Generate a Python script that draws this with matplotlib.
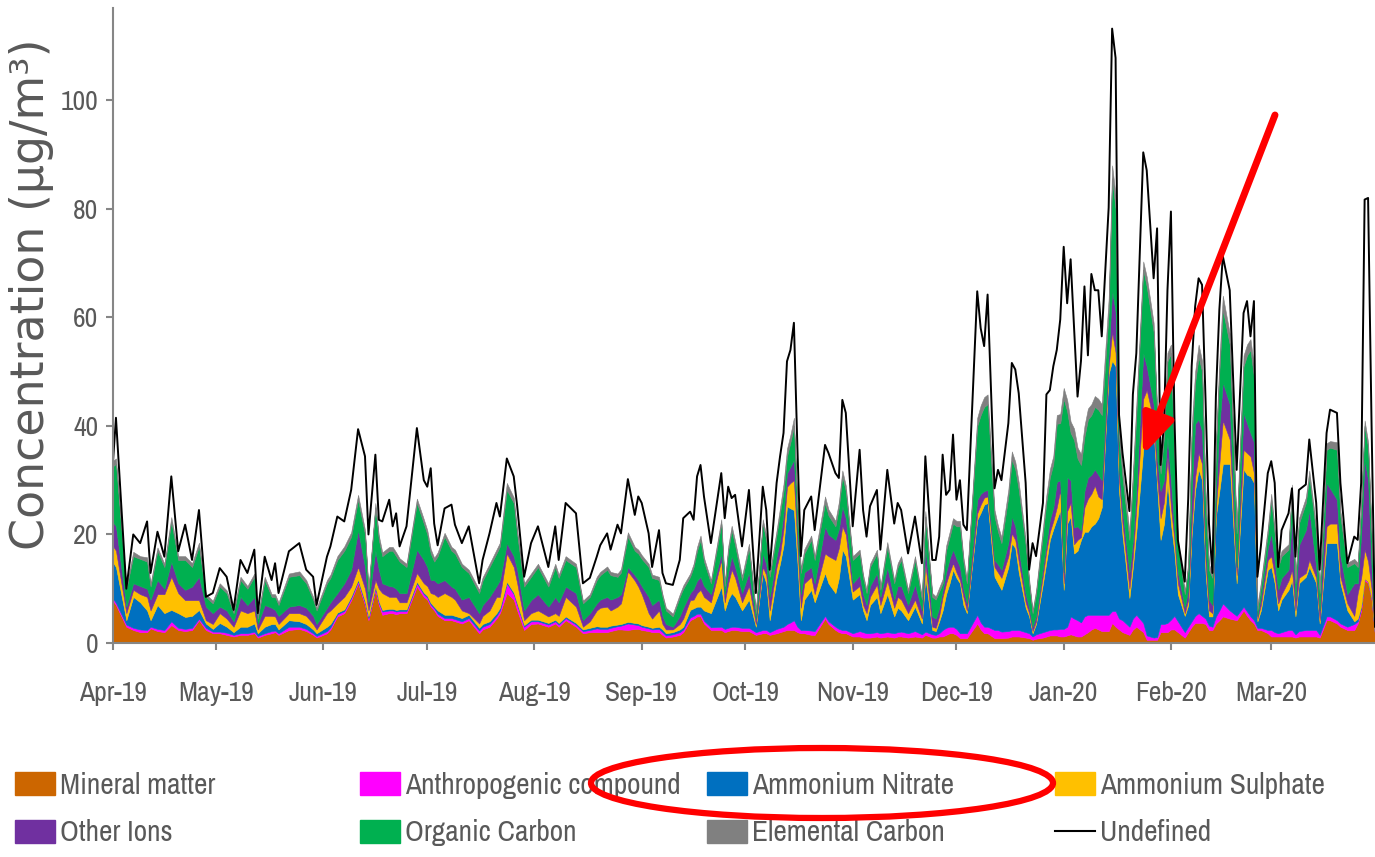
import numpy as np
import matplotlib
matplotlib.use("Agg")
from matplotlib import pyplot as plt
import matplotlib.dates as mdates
from matplotlib import font_manager
from matplotlib.patches import Ellipse, Patch
from matplotlib.lines import Line2D

# days since 2019-04-01 at which the values were read
day = [0, 1, 4, 6, 8, 10, 11, 13, 15, 17, 19, 21, 23, 25, 27, 29,
       31, 33, 35, 37, 39, 41, 42, 44, 46, 47, 48, 51, 54, 56, 58, 59,
       62, 63, 65, 67, 69, 71, 73, 74, 76, 77, 78, 80, 81, 82, 83, 85, 88, 90,
       91, 92, 93, 94, 96, 98, 99, 101, 103, 106, 107, 109, 111, 112, 114, 116, 117, 119, 121,
       123, 126, 128, 129, 131, 134, 136, 138, 140, 141, 143, 144, 146, 147, 149, 151, 152,
       153, 155, 156, 158, 159, 160, 162, 164, 165, 167, 168, 169, 170, 171, 173, 176, 177, 178, 179, 180, 182,
       184, 186, 188, 189, 190, 192, 193, 194, 195, 196, 197, 198, 199, 200, 202, 203, 206, 207, 209, 210, 211, 212,
       214, 216, 217, 218, 219, 221, 222, 224, 226, 227, 228, 230, 232, 234, 235, 237, 238, 239, 240, 241, 242, 243,
       244, 245, 246, 247, 250, 251, 252, 253, 255, 256, 257, 259, 260, 261, 262, 264, 265, 266, 267, 269, 270, 271, 272, 273, 274,
       275, 276, 277, 278, 279, 280, 281, 282, 283, 284, 285, 286, 288, 289, 290, 291, 292, 294, 295, 296, 298, 299, 301, 302, 303, 304, 305,
       306, 307, 308, 310, 311, 312, 313, 314, 315, 316, 317, 318, 319, 320, 321, 323, 325, 327, 328, 329, 330, 331, 332, 334,
       335, 336, 337, 338, 340, 341, 342, 343, 345, 346, 348, 349, 351, 352, 354, 355, 357, 359, 360, 361, 362, 363, 364, 365]

# cumulative tops of the stacked areas (µg/m3)
top_mineral = [7.9, 7, 3, 2.4, 2, 2, 2.7, 2.2, 2, 3.3, 2.4, 2.2, 2.4, 4.2, 2.4, 1.8,
               1.8, 1.5, 1.2, 1.5, 1.5, 1.8, 1, 1.5, 1.8, 2, 1.5, 2.4, 2.6, 2.2, 1.5, 1,
               1.8, 2.5, 4.9, 5.5, 7.9, 11, 7, 4.2, 9.8, 7, 5.2, 5.5, 5.5, 5.3, 5.5, 5.5, 10.4, 8.5,
               8, 6.7, 6, 5, 4.2, 4.2, 4, 3.6, 4.2, 1.8, 2.5, 3, 4.5, 5.5, 9.2, 8, 6, 2.4, 3.5,
               3.6, 3, 3.6, 3, 4.2, 3, 1.8, 2, 2, 2, 2, 2.2, 2.5, 2.5, 2.4, 2.6, 2.6,
               2.4, 2.2, 2, 2, 1.5, 1, 1.2, 1.5, 2, 4.2, 4.5, 4.9, 4.9, 3.6, 2.4, 2.4, 2, 2.2, 2.4, 2.4, 2.2,
               2.2, 1.5, 1.8, 1.8, 1.5, 1.8, 2, 2.2, 2.4, 2.4, 2.4, 2, 1.8, 1.8, 1.5, 1.5, 4.5, 3.5, 2.4, 2, 1.8, 1.8,
               1.2, 1.2, 1, 1, 1, 1.2, 1, 1.2, 1, 1.2, 1.2, 1, 1.2, 1, 1.5, 1, 1, 1.2, 1.2, 1.5, 1.8, 1.8,
               1.5, 0.9, 0.9, 0.9, 3.6, 2.5, 1.8, 1.8, 0.9, 0.9, 0.9, 1, 1.2, 1.2, 1.2, 1, 0.9, 0.6, 0.8, 1, 1.2, 1.4, 1.4, 1.4, 1.2,
               1.2, 1.4, 1.6, 1.4, 1.2, 1.2, 1.6, 2, 2.5, 2.8, 2.5, 2.2, 2.2, 3.7, 3, 2.5, 2, 1.5, 2.5, 3, 2, 0.6, 0.6, 0.6, 2, 2, 2,
               2.5, 2.5, 2, 1, 2, 3, 3.7, 3.7, 3.7, 3.5, 2.4, 2.4, 3.6, 4.2, 4.9, 4.5, 4.2, 6, 5, 4.2, 3.6, 2.4, 2.4, 1.8,
               1.2, 1.2, 1.2, 1.2, 1.2, 1.2, 1, 1.2, 1.2, 1.2, 1.2, 1, 4.2, 4.2, 3.6, 3, 2.4, 2.4, 3.6, 6, 11.6, 11, 8, 1.5]

top_anthro = [8.3, 7.4, 3.4, 2.8, 2.5, 2.4, 3, 2.6, 2.4, 4, 2.8, 2.6, 2.8, 4.5, 2.8, 2.1,
              2.1, 1.9, 1.5, 1.8, 1.8, 2.1, 1.3, 1.8, 2.2, 2.3, 1.8, 3, 3, 2.6, 1.8, 1.3,
              2.2, 2.9, 5.3, 5.9, 8.3, 11.4, 7.4, 4.6, 10.2, 7.4, 5.8, 6, 6, 5.8, 5.9, 5.9, 11, 9,
              8.4, 7.1, 6.4, 5.4, 4.6, 4.6, 4.4, 4, 4.6, 2.3, 3, 3.5, 5, 6, 11, 9, 7, 3, 4,
              4, 3.4, 4, 3.4, 4.6, 3.4, 2.2, 2.4, 2.7, 2.6, 2.6, 2.8, 3.1, 3.2, 3.6, 3.4, 3.3,
              3, 2.7, 2.5, 2.6, 2, 1.4, 1.6, 2, 2.5, 4.7, 5, 5.4, 5.4, 4.1, 2.9, 3, 2.6, 2.8, 3, 3, 2.8,
              2.8, 2, 2.4, 2.4, 2, 2.6, 2.8, 3, 3.5, 3.8, 4.2, 3, 2.4, 2.4, 2.3, 2.2, 5, 4, 3, 2.6, 2.4, 2.4,
              1.8, 2.2, 2, 1.8, 1.8, 2, 1.8, 2, 1.8, 2, 2.1, 1.8, 2.2, 1.6, 2.1, 1.6, 1.5, 1.8, 2.4, 2.8, 3, 3,
              2.6, 1.8, 1.8, 1.8, 5.2, 3.8, 3, 3, 2.4, 2.4, 2.1, 2.2, 2.4, 2.4, 2.4, 2, 1.8, 1.2, 1.6, 2, 2.2, 2.4, 2.5, 2.5, 2.6,
              2.6, 3, 4.9, 4.5, 4.2, 3.8, 4.9, 5.2, 5.2, 5.2, 5.2, 5.2, 5.2, 5.9, 5.9, 4.5, 4.2, 3, 4.5, 5.2, 3.7, 1.4, 1, 1.1, 3.5, 3.5, 3.7,
              4.3, 5, 4, 2, 3, 4, 5, 5.5, 5, 4.5, 3.2, 3, 4.9, 6, 7.3, 6, 5, 6.7, 5.8, 4.9, 4.2, 2.8, 2.8, 2.4,
              2.4, 2, 1.8, 2, 2.4, 2.4, 1.6, 2.2, 2.4, 2.4, 2.4, 1.5, 4.9, 4.9, 4.2, 3.6, 3, 3.5, 4, 6.5, 11.9, 11.3, 8.3, 1.6]

top_nitrate = [15, 14, 4.2, 8.5, 7.5, 6, 4.2, 7, 5.5, 6.1, 5.5, 4.8, 5, 6.1, 3.6, 2.6,
               3.7, 3, 2, 3, 3, 3.6, 1.8, 3, 3.5, 3.5, 2.5, 4.2, 4, 3.5, 2.5, 1.8,
               3, 3.5, 5.6, 6.2, 8.6, 11.7, 7.7, 4.9, 10.5, 7.7, 6.1, 6.3, 6.3, 6.1, 6.2, 6.2, 11.3, 9.3,
               8.7, 7.4, 6.7, 6, 5.2, 5.2, 5, 4.6, 5.2, 2.8, 3.5, 4, 5.5, 6.5, 11.3, 9.3, 7.3, 3.3, 4.3,
               4.3, 3.7, 4.3, 3.7, 4.9, 3.7, 2.5, 2.8, 3.1, 3, 3, 3.2, 3.4, 3.5, 3.9, 3.7, 3.6,
               3.3, 3, 2.8, 3, 2.5, 1.8, 2, 2.5, 3, 6.1, 6.4, 6.7, 6.7, 6, 5.5, 10.4, 6, 8, 9.2, 8.5, 6,
               8, 3, 13, 11, 4.2, 12, 14.7, 18, 25.2, 24.8, 24.5, 15, 4.2, 8, 9.8, 7.5, 12.9, 11, 9.2, 12, 17.2, 16,
               8, 9, 6, 4.2, 7, 8.5, 5.5, 9, 4.9, 6.5, 6, 4.2, 6.7, 3.6, 12.2, 2.4, 2.2, 4, 6, 9, 11, 13.5,
               12, 11, 7, 5.5, 22.7, 24, 25.5, 25.8, 12.2, 11, 9.8, 14, 18.4, 17.5, 13, 6.5, 4.9, 1.8, 3.5, 11, 15, 19, 21, 22.8, 24.5,
               9.8, 22, 23.3, 16.5, 17, 19, 20.5, 20.5, 21.5, 22, 23, 25, 49.6, 52, 51, 28, 19.8, 8.3, 14, 20.5, 35.8, 42, 38.9, 29, 19, 22, 29.7,
               22, 16.7, 9, 5, 7, 20, 28.2, 32, 30, 13, 4.9, 4.9, 23.3, 28, 33, 33, 11, 32, 31, 30.7, 29.5, 4, 6, 13.5,
               14, 11, 6, 8, 9.8, 11.6, 4.9, 11, 12.2, 14, 11, 3.6, 18.4, 18.4, 18.4, 11, 6, 4, 4.5, 6.8, 11.9, 11.3, 8.3, 1.6]

top_sulphate = [18, 17, 5.5, 9.8, 9, 8.5, 6, 9, 9, 12.2, 9.2, 7.9, 7.9, 7.9, 4.2, 3.5,
                5.5, 4.5, 3, 6, 5.5, 6, 2.5, 5, 5, 4.9, 3.5, 5.5, 5.5, 5, 3.5, 2.5,
                5.5, 6, 7.3, 8.5, 10.4, 14, 10, 6, 11.6, 10, 9.2, 8.5, 8.5, 8.5, 7.5, 7.5, 12.9, 11,
                10.5, 9.2, 9, 8.5, 9.2, 8.5, 8, 6, 5.5, 3.6, 5, 6, 8.5, 8.5, 16.5, 14, 11, 4.2, 5.5,
                6, 4.9, 5.5, 5, 8.5, 6.7, 3, 4, 6, 6.5, 6.7, 6, 6.7, 7.3, 13.2, 11.5, 10.4,
                9, 5.5, 4.5, 6, 3.5, 2.5, 2.5, 3.5, 4.5, 7.9, 8, 9.2, 9.8, 8.5, 7.5, 15.3, 7.5, 11, 13.5, 12, 7.5,
                10.5, 3.5, 14, 12.5, 6, 14, 16.5, 21, 28.8, 29.5, 30, 18, 6.5, 11, 12.2, 9, 16.5, 16, 15.3, 17.5, 21.5, 20,
                9.5, 10.5, 7, 5.5, 8.5, 10.8, 7, 11.5, 6.5, 8.5, 8, 5.5, 8, 4.5, 14.7, 3, 2.8, 5, 8.5, 11, 13, 14.7,
                13, 11.6, 8.5, 6, 23.9, 25.5, 26.8, 27, 14, 13, 12, 16, 20.2, 19, 15, 7.5, 5.5, 2.2, 4, 12.5, 17, 20.5, 22.5, 25, 28.2,
                11, 24.3, 25.8, 18.2, 19, 19.5, 25, 26.6, 27.5, 29, 27, 26.5, 51, 57.3, 53.5, 30, 22, 10, 16, 25, 45, 46.6, 41, 30.5, 23, 26, 34.3,
                25, 19, 11, 5.5, 8, 22, 30.5, 35, 33, 15, 6, 5.5, 25, 33, 41, 37.5, 12.5, 35.6, 35, 34.4, 31.3, 4.5, 7, 15.3,
                16, 12.5, 7.3, 9, 11.5, 13.5, 6, 12, 12.9, 15.3, 12, 4.2, 21.5, 22, 22, 12.2, 7.3, 5, 9.2, 12, 17.2, 15, 10, 1.8]

top_ions = [22.4, 21.5, 6.7, 11, 10.5, 10, 8, 11.6, 10, 15, 11, 9.8, 10.4, 12.2, 6.7, 5.5,
            6.7, 6, 4, 8.5, 7, 8.5, 3.5, 7, 6.5, 6.1, 5, 6.7, 7, 6.5, 5, 3.5,
            6.5, 7.5, 9.2, 11, 13.5, 20.8, 14, 7.5, 17, 13.5, 11, 10.5, 10.4, 10, 9.2, 9.2, 17.2, 15.3,
            14, 11.6, 11.6, 11, 11.6, 10.4, 10, 8, 8.5, 5.5, 7, 8.5, 10.5, 11.6, 18.4, 16, 13.5, 6, 7.9,
            9, 6.7, 8.5, 7.5, 10.4, 9.2, 4.2, 5.5, 7.3, 8, 8.5, 8, 8.5, 9, 14, 12.5, 11.6,
            10.5, 8.5, 7, 8, 5, 3.5, 3, 5, 6.5, 9.2, 10, 11.5, 12.2, 10.5, 9, 16.5, 9, 13, 16, 14, 9.2,
            13, 4.5, 16.5, 14.5, 8.5, 16, 19, 24, 31.3, 32.5, 33.8, 21, 9, 13, 14, 11, 21.5, 20, 19, 21, 25.2, 23,
            11, 12.5, 9, 7, 10.5, 12.9, 8.5, 14, 8, 10.5, 10.5, 7, 10.8, 6, 17.8, 4.9, 4.5, 6.5, 9.8, 13, 15.5, 17.2,
            15.5, 14, 10, 7.3, 26.4, 27.5, 28, 28.2, 15.3, 14.5, 13.5, 18.5, 23.3, 21.5, 17.2, 9, 6.5, 3, 5, 14, 18.5, 22.8, 25, 29.7, 30,
            13, 30.5, 30, 21.3, 21.5, 20.8, 28, 30.5, 31, 32, 31, 30, 53.4, 65, 61, 32, 24.5, 13, 19, 28.5, 53.4, 51, 44, 34, 28, 30, 38,
            30, 21, 13, 6.5, 10, 28, 40.4, 41.2, 39, 18, 8, 7, 28, 40, 48, 44, 14, 42.4, 40.5, 38.7, 37, 5, 8.5, 17.5,
            20.2, 15, 9.8, 12, 13.5, 23.3, 8, 18, 20.8, 24.5, 14, 6, 29.5, 28.5, 26.4, 16, 9, 11, 11, 20, 33.8, 30, 14, 2]

top_oc = [32.5, 33, 10, 16, 15.5, 15, 10.4, 17, 14, 22.4, 15.3, 15.3, 14, 17.8, 8.5, 7.3,
          10.4, 9.2, 5.5, 11.6, 10, 12.2, 4.5, 11.6, 8.5, 8.5, 7, 12.2, 12.5, 11, 8, 6,
          11, 12, 15.3, 17, 19.6, 26.4, 20, 9.5, 25, 19, 16, 17, 17, 16, 15, 14, 25.8, 22,
          20, 16.5, 15, 16, 19.6, 17, 16.5, 14, 12.9, 9.2, 11.5, 14, 16.5, 17.8, 28.2, 25.8, 20, 10.4, 12.2,
          14, 10.4, 14, 12, 15.3, 14, 7.3, 8.5, 11.6, 12.5, 13.5, 12.5, 12.2, 13, 19.6, 17, 16.5,
          15.5, 14, 12, 11.6, 8.5, 6, 4.9, 8.5, 10, 12.2, 14, 17, 19, 15, 11, 22, 10.5, 17, 20.8, 18, 11.6,
          17.5, 5.5, 22, 19, 12.2, 20, 24, 28, 34.4, 37, 40, 25, 12.9, 16.5, 19, 15.3, 25.8, 23.5, 21.5, 25, 30.7, 28,
          15.3, 16.5, 12, 9.2, 14, 16.5, 9.8, 17.8, 11, 14, 15.3, 9.2, 15.3, 8, 23.3, 8.5, 8, 9.5, 11, 17, 19.5, 22,
          21.5, 21.5, 15, 11, 40, 42, 43.5, 44, 23.3, 20.5, 18.4, 27, 33.8, 32, 28.2, 18, 11, 5.5, 9, 20.2, 26, 30.5, 33, 40.4, 40.5,
          45, 42.7, 38.7, 37.4, 34, 32.8, 38, 41.2, 42, 43.5, 43, 42, 61, 85.6, 80, 38, 30.5, 19, 30, 42, 68.8, 65.7, 57.3, 42, 31.2, 38, 51.9,
          53.4, 34.3, 18.5, 9, 14, 38, 48, 52.7, 50, 26.6, 13.5, 12, 35.6, 50, 61.4, 55, 20.2, 51, 53, 54, 49, 6, 10.4, 20.2,
          26.4, 20, 14, 16, 17.2, 28.2, 11, 22, 25.8, 30.7, 20.2, 9.2, 35.6, 36, 35.6, 23.3, 14, 14.7, 14, 25, 40, 36, 20, 2.5]

top_ec = [33.5, 34, 10.5, 16.8, 16, 15.8, 11, 17.6, 14.6, 23.2, 16, 16, 14.7, 18.5, 9, 7.8,
          11, 9.7, 6, 12.2, 10.5, 12.8, 5, 12.2, 9, 9, 7.5, 12.8, 13.2, 11.6, 8.5, 6.5,
          11.6, 12.6, 16, 17.8, 20.4, 27.3, 20.8, 10, 25.8, 19.8, 16.7, 17.7, 17.7, 16.7, 15.6, 14.6, 26.6, 22.8,
          20.8, 17.3, 15.7, 16.7, 20.3, 17.7, 17.2, 14.6, 13.5, 9.8, 12.1, 14.6, 17.2, 18.5, 29.5, 26.8, 20.8, 11, 12.8,
          14.6, 11, 14.6, 12.6, 16, 14.6, 7.8, 9, 12.2, 13.1, 14.1, 13.1, 12.8, 13.6, 20.4, 17.7, 17.2,
          16.2, 14.6, 12.6, 12.2, 9, 6.5, 5.4, 9, 10.6, 12.8, 14.6, 17.7, 19.8, 15.7, 11.6, 22.8, 11.2, 17.8, 21.6, 18.8, 12.3,
          18.3, 6, 22.8, 19.8, 12.9, 20.8, 25, 29.3, 35.8, 38.4, 41.5, 26, 13.6, 17.3, 19.8, 16, 27, 24.6, 22.5, 26, 31.8, 29,
          16, 17.2, 12.6, 9.8, 14.6, 17.2, 10.4, 18.6, 11.6, 14.7, 16, 9.8, 16, 8.6, 24.3, 9.2, 8.6, 10.2, 11.8, 17.9, 20.4, 23,
          22.5, 22.5, 15.8, 11.7, 41.5, 43.8, 45.3, 45.8, 24.5, 21.6, 19.5, 28.3, 35.3, 33.4, 29.6, 19, 11.8, 6, 9.7, 21.3, 27.3, 32, 34.5, 42, 42.2,
          47, 44.8, 40.8, 39.5, 36, 34.8, 40, 43.2, 44, 45.5, 45, 44, 63.5, 88, 82.5, 39.5, 32, 20.5, 31.5, 44, 70.3, 67.5, 59, 43.5, 32.5, 39.5, 53.5,
          55, 36, 19, 9.5, 14.8, 40, 50, 55, 52, 28, 14.5, 12.9, 37, 52, 64, 57, 21.5, 53, 55, 56, 51, 7, 11.2, 21.2,
          27.5, 21, 14.8, 17, 18.2, 29.2, 11.8, 23, 26.8, 31.8, 21.2, 10, 36.8, 37.2, 37, 24.3, 14.8, 15.5, 14.8, 26, 41, 37, 21, 2.8]

# total concentration (the "Undefined" line sits on top)
total = [32, 41.5, 10, 20, 18.4, 22.4, 12.9, 20.5, 15.9, 30.7, 16.9, 21.8, 15.3, 24.5, 8.5, 9.2,
         13.8, 12.2, 6.1, 15.3, 12.9, 17.2, 5.5, 15.9, 11.6, 14.7, 9.2, 16.9, 18.4, 13.5, 12.2, 7,
         15.9, 17.8, 23.3, 22.4, 28.2, 39.4, 34.4, 20, 34.7, 22.7, 22.4, 26.4, 21.5, 23.9, 17.8, 21.5, 39.6, 30,
         28.8, 32.2, 22, 18, 24.8, 25.5, 21.8, 18.4, 21.5, 11, 15.3, 20.2, 25.8, 23.3, 34, 30.7, 25.2, 12.2, 18.4,
         21.5, 14, 21.5, 15.3, 25.8, 23.9, 11, 12, 15.9, 18, 20.2, 17.2, 21.8, 20.2, 30.2, 23.6, 27,
         25.8, 20.2, 14, 20.8, 12.9, 11, 10.7, 15.3, 23, 24.2, 22.7, 30.7, 32.8, 27, 18.4, 31.3, 23, 28.8, 26.7, 27.3, 17.8,
         28.2, 9.2, 28.8, 24.5, 13.5, 29.5, 34.4, 38.7, 51.9, 54, 59, 36.2, 16, 24.5, 27, 20.8, 36.5, 35, 31.3, 30.4, 44.8, 42.4,
         21.5, 35.6, 24.5, 19.6, 25.2, 28.2, 17.2, 31.9, 22, 25.8, 24.5, 16.5, 23.3, 14.7, 34.4, 15.3, 15.3, 19.6, 34.7, 27.3, 28.2, 38.4,
         26.4, 30, 21.8, 20.8, 64.8, 58, 54.7, 64.2, 28.5, 31.9, 30, 40.5, 51.6, 50.4, 46, 29.5, 13.5, 18.4, 16, 25.8, 45.8, 46.6, 51, 54, 59.6,
         73, 62.6, 70.7, 58, 45.4, 52, 65.7, 53, 68, 65, 65, 56.5, 80.2, 113.2, 107.8, 42, 35, 24.3, 45.8, 53.4, 90.4, 87.1, 67.2, 76.4, 32.8, 40.4, 65,
         79.5, 42, 19, 11.3, 26.6, 51, 62, 67.2, 66, 45, 22, 12.9, 45.4, 61.4, 71.3, 65, 31.9, 60.8, 63, 56.5, 63, 12.2, 17.8, 31.3,
         33.5, 29.5, 14, 20.8, 23.9, 28.5, 15.9, 28.2, 29.2, 37.5, 25.8, 13.5, 38.7, 43, 42.4, 29.5, 14.7, 19.6, 19, 29.5, 81.7, 82, 40.5, 3]

names = ["Mineral matter", "Anthropogenic compound", "Ammonium Nitrate", "Ammonium Sulphate",
         "Other Ions", "Organic Carbon", "Elemental Carbon"]
colors = ["#CC6600", "#FF00FF", "#0070C0", "#FFC000", "#7030A0", "#00B050", "#808080"]

dates = np.datetime64("2019-04-01") + np.array(day).astype("timedelta64[D]")
tops = np.array([top_mineral, top_anthro, top_nitrate, top_sulphate, top_ions, top_oc, top_ec], dtype=float)
tops = np.maximum.accumulate(tops, axis=0)  # stack is never allowed to go down
bottoms = np.vstack([np.zeros(len(day)), tops[:-1]])

# pick the narrowest face available (Narrow first, then Condensed)
narrow_prop = None
for key in ("Narrow", "Condensed"):
    for f in font_manager.fontManager.ttflist:
        if f.style == "normal" and f.weight in (400, "normal", "regular") and key in f.name:
            narrow_prop = font_manager.FontProperties(fname=f.fname)
            break
    if narrow_prop is not None:
        break
if narrow_prop is None:
    narrow_prop = font_manager.FontProperties(family="Liberation Sans")
grey_txt = "#595959"

fig = plt.figure(figsize=(13.75, 8.57), dpi=100)
renderer = fig.canvas.get_renderer()


def size_for(text, width_px, base=20):
    # font size that makes `text` as wide as in the reference
    p = narrow_prop.copy()
    p.set_size(base)
    t = fig.text(0, 0, text, fontproperties=p)
    w = t.get_window_extent(renderer).width
    t.remove()
    return base * width_px / w


tick_size = size_for("Apr-19", 68)
leg_size = size_for("Ammonium Sulphate", 225)

ax = fig.add_axes([112.5 / 1375, 1 - 643 / 857, (1375 - 112.5) / 1375, 635 / 857])

for lo, hi, c in zip(bottoms, tops, colors):
    ax.fill_between(dates, lo, hi, color=c, lw=0.4, edgecolor=c)
ax.plot(dates, total, color="black", lw=1.4)

ax.set_xlim(np.datetime64("2019-04-01"), np.datetime64("2020-03-31"))
ax.set_ylim(0, 117)
ax.set_yticks(range(0, 101, 20))
ax.xaxis.set_major_locator(mdates.MonthLocator())
ax.xaxis.set_major_formatter(mdates.DateFormatter("%b-%y"))

for s in ["top", "right"]:
    ax.spines[s].set_visible(False)
for s in ["left", "bottom"]:
    ax.spines[s].set_color("#868686")
    ax.spines[s].set_linewidth(1.5)

ax.tick_params(axis="both", colors="#868686", width=1.5, length=5, labelcolor=grey_txt)
ax.tick_params(axis="x", pad=22 + (20 - tick_size) * 0.5)
ax.tick_params(axis="y", pad=5)
tick_prop = narrow_prop.copy()
tick_prop.set_size(tick_size)
for lab in ax.get_xticklabels() + ax.get_yticklabels():
    lab.set_fontproperties(tick_prop)

ax.set_ylabel("Concentration (µg/m³)", fontsize=33, color=grey_txt, family="DejaVu Sans")
ax.yaxis.set_label_coords(-0.046, 0.55)

# legend: 4 columns x 2 rows, Excel style (sizes in pt, 1 px = 0.72 pt)
leg_prop = narrow_prop.copy()
leg_prop.set_size(leg_size)
fs = leg_size
handles = [Patch(color=c) for c in colors] + [Line2D([], [], color="black", lw=1.5)]
labels = names + ["Undefined"]
cols = [[0, 4], [1, 5], [2, 6], [3, 7]]
col_x = [15, 360, 707, 1055]
for cx, idx in zip(col_x, cols):
    fig.legend([handles[i] for i in idx], [labels[i] for i in idx],
               loc="center left", bbox_to_anchor=(cx / 1375, 1 - 809 / 857),
               frameon=False, borderpad=0, borderaxespad=0,
               handlelength=28.8 / fs, handleheight=17.3 / fs, handletextpad=3.6 / fs,
               labelspacing=15 / fs, labelcolor=grey_txt, prop=leg_prop)

# red highlight
fig.add_artist(Ellipse((822 / 1375, 74 / 857), 462 / 1375, 70 / 857, transform=fig.transFigure,
                       fill=False, edgecolor="red", lw=4.5, zorder=10))
ax.annotate("", xy=(1143, 857 - 455), xytext=(1275, 857 - 115),
            xycoords="figure pixels", textcoords="figure pixels", annotation_clip=False,
            arrowprops=dict(arrowstyle="-|>,head_length=1.6,head_width=0.65", color="red",
                            lw=5, mutation_scale=15, shrinkA=0, shrinkB=0), zorder=10)

fig.savefig("out.png", dpi=100)
